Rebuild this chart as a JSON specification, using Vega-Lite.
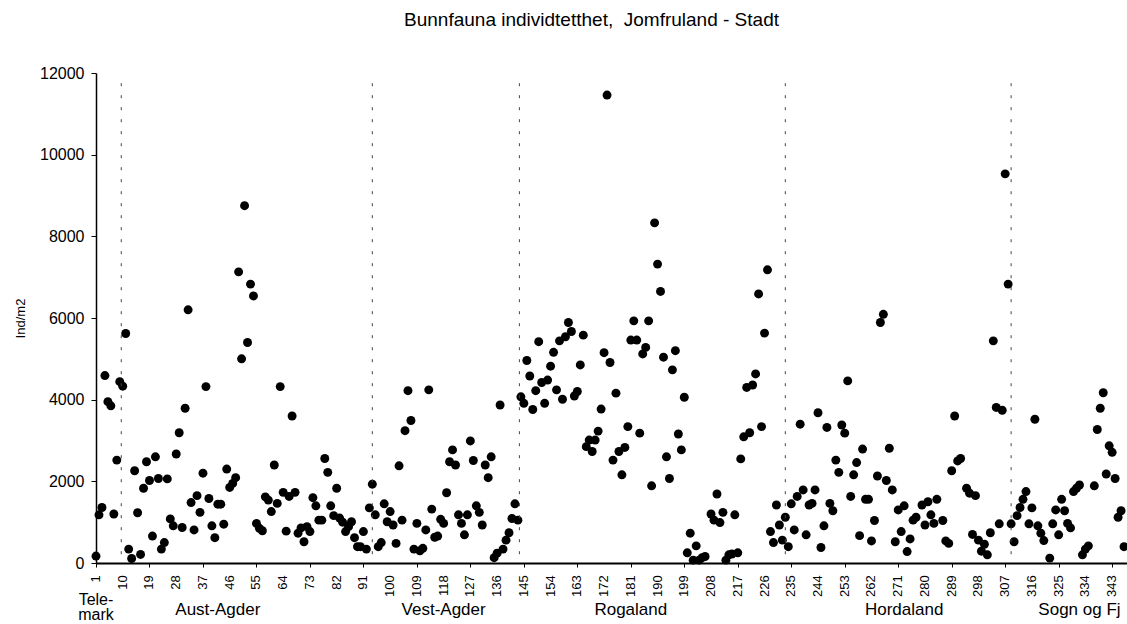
{
  "$schema": "https://vega.github.io/schema/vega-lite/v6.json",
  "width": 1031,
  "height": 490,
  "autosize": {"type": "none"},
  "padding": {"left": 96, "top": 73, "right": 0, "bottom": 61},
  "background": "white",
  "config": {"view": {"stroke": null}, "font": "Liberation Sans"},
  "title": {"text": "Bunnfauna individtetthet, \u00a0Jomfruland - Stadt", "font": "Liberation Sans", "fontSize": 19, "fontWeight": "normal", "color": "black", "anchor": "middle", "offset": 35, "dx": -20},
  "datasets": {
    "points": [
      {"station":1,"ind":170},{"station":2,"ind":1180},{"station":3,"ind":1360},{"station":4,"ind":4590},{"station":5,"ind":3950},{"station":6,"ind":3850},{"station":7,"ind":1200},{"station":8,"ind":2520},{"station":9,"ind":4440},{"station":10,"ind":4330},
      {"station":11,"ind":5620},{"station":12,"ind":340},{"station":13,"ind":110},{"station":14,"ind":2260},{"station":15,"ind":1230},{"station":16,"ind":210},{"station":17,"ind":1830},{"station":18,"ind":2480},{"station":19,"ind":2020},{"station":20,"ind":660},
      {"station":21,"ind":2600},{"station":22,"ind":2070},{"station":23,"ind":340},{"station":24,"ind":500},{"station":25,"ind":2060},{"station":26,"ind":1080},{"station":27,"ind":910},{"station":28,"ind":2670},{"station":29,"ind":3190},{"station":30,"ind":870},
      {"station":31,"ind":3790},{"station":32,"ind":6200},{"station":33,"ind":1480},{"station":34,"ind":810},{"station":35,"ind":1650},{"station":36,"ind":1240},{"station":37,"ind":2200},{"station":38,"ind":4320},{"station":39,"ind":1580},{"station":40,"ind":910},
      {"station":41,"ind":620},{"station":42,"ind":1440},{"station":43,"ind":1440},{"station":44,"ind":950},{"station":45,"ind":2300},{"station":46,"ind":1850},{"station":47,"ind":1950},{"station":48,"ind":2090},{"station":49,"ind":7130},{"station":50,"ind":5000},
      {"station":51,"ind":8750},{"station":52,"ind":5400},{"station":53,"ind":6830},{"station":54,"ind":6540},{"station":55,"ind":970},{"station":56,"ind":850},{"station":57,"ind":790},{"station":58,"ind":1620},{"station":59,"ind":1540},{"station":60,"ind":1260},
      {"station":61,"ind":2400},{"station":62,"ind":1460},{"station":63,"ind":4320},{"station":64,"ind":1730},{"station":65,"ind":780},{"station":66,"ind":1630},{"station":67,"ind":3600},{"station":68,"ind":1730},{"station":69,"ind":730},{"station":70,"ind":860},
      {"station":71,"ind":520},{"station":72,"ind":890},{"station":73,"ind":770},{"station":74,"ind":1600},{"station":75,"ind":1400},{"station":76,"ind":1050},{"station":77,"ind":1050},{"station":78,"ind":2560},{"station":79,"ind":2220},{"station":80,"ind":1400},
      {"station":81,"ind":1160},{"station":82,"ind":1830},{"station":83,"ind":1100},{"station":84,"ind":1000},{"station":85,"ind":770},{"station":86,"ind":890},{"station":87,"ind":1010},{"station":88,"ind":620},{"station":89,"ind":400},{"station":90,"ind":400},
      {"station":91,"ind":770},{"station":92,"ind":340},{"station":93,"ind":1350},{"station":94,"ind":1930},{"station":95,"ind":1180},{"station":96,"ind":400},{"station":97,"ind":500},{"station":98,"ind":1450},{"station":99,"ind":1010},{"station":100,"ind":1260},
      {"station":101,"ind":930},{"station":102,"ind":480},{"station":103,"ind":2380},{"station":104,"ind":1050},{"station":105,"ind":3240},{"station":106,"ind":4220},{"station":107,"ind":3490},{"station":108,"ind":340},{"station":109,"ind":970},{"station":110,"ind":300},
      {"station":111,"ind":360},{"station":112,"ind":810},{"station":113,"ind":4240},{"station":114,"ind":1320},{"station":115,"ind":630},{"station":116,"ind":660},{"station":117,"ind":1070},{"station":118,"ind":970},{"station":119,"ind":1720},{"station":120,"ind":2480},
      {"station":121,"ind":2770},{"station":122,"ind":2400},{"station":123,"ind":1180},{"station":124,"ind":970},{"station":125,"ind":690},{"station":126,"ind":1180},{"station":127,"ind":2990},{"station":128,"ind":2510},{"station":129,"ind":1400},{"station":130,"ind":1240},
      {"station":131,"ind":930},{"station":132,"ind":2400},{"station":133,"ind":2090},{"station":134,"ind":2600},{"station":135,"ind":130},{"station":136,"ind":240},{"station":137,"ind":3870},{"station":138,"ind":340},{"station":139,"ind":560},{"station":140,"ind":740},
      {"station":141,"ind":1090},{"station":142,"ind":1450},{"station":143,"ind":1050},{"station":144,"ind":4070},{"station":145,"ind":3910},{"station":146,"ind":4960},{"station":147,"ind":4580},{"station":148,"ind":3760},{"station":149,"ind":4220},{"station":150,"ind":5420},
      {"station":151,"ind":4420},{"station":152,"ind":3910},{"station":153,"ind":4480},{"station":154,"ind":4820},{"station":155,"ind":5160},{"station":156,"ind":4240},{"station":157,"ind":5440},{"station":158,"ind":4010},{"station":159,"ind":5540},{"station":160,"ind":5890},
      {"station":161,"ind":5670},{"station":162,"ind":4090},{"station":163,"ind":4200},{"station":164,"ind":4850},{"station":165,"ind":5580},{"station":166,"ind":2850},{"station":167,"ind":3010},{"station":168,"ind":2730},{"station":169,"ind":3010},{"station":170,"ind":3230},
      {"station":171,"ind":3770},{"station":172,"ind":5150},{"station":173,"ind":11460},{"station":174,"ind":4910},{"station":175,"ind":2520},{"station":176,"ind":4160},{"station":177,"ind":2730},{"station":178,"ind":2160},{"station":179,"ind":2830},{"station":180,"ind":3340},
      {"station":181,"ind":5460},{"station":182,"ind":5930},{"station":183,"ind":5460},{"station":184,"ind":3180},{"station":185,"ind":5120},{"station":186,"ind":5280},{"station":187,"ind":5930},{"station":188,"ind":1890},{"station":189,"ind":8330},{"station":190,"ind":7320},
      {"station":191,"ind":6650},{"station":192,"ind":5040},{"station":193,"ind":2600},{"station":194,"ind":2070},{"station":195,"ind":4730},{"station":196,"ind":5200},{"station":197,"ind":3160},{"station":198,"ind":2770},{"station":199,"ind":4060},{"station":200,"ind":250},
      {"station":201,"ind":730},{"station":202,"ind":70},{"station":203,"ind":420},{"station":204,"ind":70},{"station":205,"ind":130},{"station":206,"ind":160},{"station":208,"ind":1200},{"station":209,"ind":1050},{"station":210,"ind":1690},
      {"station":211,"ind":990},{"station":212,"ind":1240},{"station":213,"ind":70},{"station":214,"ind":200},{"station":215,"ind":220},{"station":216,"ind":1180},{"station":217,"ind":250},{"station":218,"ind":2550},{"station":219,"ind":3090},{"station":220,"ind":4300},
      {"station":221,"ind":3190},{"station":222,"ind":4360},{"station":223,"ind":4630},{"station":224,"ind":6590},{"station":225,"ind":3340},{"station":226,"ind":5630},{"station":227,"ind":7180},{"station":228,"ind":770},{"station":229,"ind":500},{"station":230,"ind":1420},
      {"station":231,"ind":930},{"station":232,"ind":560},{"station":233,"ind":1120},{"station":234,"ind":400},{"station":235,"ind":1450},{"station":236,"ind":810},{"station":237,"ind":1630},{"station":238,"ind":3400},{"station":239,"ind":1790},{"station":240,"ind":690},
      {"station":241,"ind":1420},{"station":242,"ind":1460},{"station":243,"ind":1790},{"station":244,"ind":3680},{"station":245,"ind":380},{"station":246,"ind":910},{"station":247,"ind":3320},{"station":248,"ind":1460},{"station":249,"ind":1280},{"station":250,"ind":2520},
      {"station":251,"ind":2220},{"station":252,"ind":3380},{"station":253,"ind":3180},{"station":254,"ind":4460},{"station":255,"ind":1630},{"station":256,"ind":2160},{"station":257,"ind":2460},{"station":258,"ind":670},{"station":259,"ind":2790},{"station":260,"ind":1560},
      {"station":261,"ind":1560},{"station":262,"ind":540},{"station":263,"ind":1040},{"station":264,"ind":2130},{"station":265,"ind":5890},{"station":266,"ind":6090},{"station":267,"ind":2020},{"station":268,"ind":2810},{"station":269,"ind":1790},{"station":270,"ind":520},
      {"station":271,"ind":1300},{"station":272,"ind":770},{"station":273,"ind":1400},{"station":274,"ind":280},{"station":275,"ind":590},{"station":276,"ind":1050},{"station":277,"ind":1120},{"station":279,"ind":1420},{"station":280,"ind":930},
      {"station":281,"ind":1500},{"station":282,"ind":1180},{"station":283,"ind":970},{"station":284,"ind":1560},{"station":286,"ind":1040},{"station":287,"ind":540},{"station":288,"ind":480},{"station":289,"ind":2260},{"station":290,"ind":3600},
      {"station":291,"ind":2500},{"station":292,"ind":2560},{"station":294,"ind":1830},{"station":295,"ind":1710},{"station":296,"ind":700},{"station":297,"ind":1650},{"station":298,"ind":560},{"station":299,"ind":290},{"station":300,"ind":460},
      {"station":301,"ind":200},{"station":302,"ind":740},{"station":303,"ind":5440},{"station":304,"ind":3810},{"station":305,"ind":960},{"station":306,"ind":3740},{"station":307,"ind":9530},{"station":308,"ind":6830},{"station":309,"ind":960},{"station":310,"ind":520},
      {"station":311,"ind":1160},{"station":312,"ind":1360},{"station":313,"ind":1560},{"station":314,"ind":1750},{"station":315,"ind":960},{"station":316,"ind":1350},{"station":317,"ind":3520},{"station":318,"ind":910},{"station":319,"ind":730},{"station":320,"ind":550},
      {"station":322,"ind":120},{"station":323,"ind":960},{"station":324,"ind":1300},{"station":325,"ind":690},{"station":326,"ind":1560},{"station":327,"ind":1280},{"station":328,"ind":970},{"station":329,"ind":860},{"station":330,"ind":1750},
      {"station":331,"ind":1830},{"station":332,"ind":1910},{"station":333,"ind":200},{"station":334,"ind":340},{"station":335,"ind":420},{"station":337,"ind":1890},{"station":338,"ind":3270},{"station":339,"ind":3790},{"station":340,"ind":4170},
      {"station":341,"ind":2180},{"station":342,"ind":2870},{"station":343,"ind":2710},{"station":344,"ind":2070},{"station":345,"ind":1120},{"station":346,"ind":1280},{"station":347,"ind":400}
    ],
    "bounds": [{"b": 9.5}, {"b": 94}, {"b": 143.5}, {"b": 233}, {"b": 309}],
    "ticks": [
      {"t":1},{"t":10},{"t":19},{"t":28},{"t":37},{"t":46},{"t":55},{"t":64},{"t":73},{"t":82},{"t":91},{"t":100},{"t":109},{"t":118},{"t":127},{"t":136},{"t":145},{"t":154},{"t":163},{"t":172},
      {"t":181},{"t":190},{"t":199},{"t":208},{"t":217},{"t":226},{"t":235},{"t":244},{"t":253},{"t":262},{"t":271},{"t":280},{"t":289},{"t":298},{"t":307},{"t":316},{"t":325},{"t":334},{"t":343}
    ],
    "regions": [
      {"label": "Aust-Agder", "pos": 42},
      {"label": "Vest-Agder", "pos": 118},
      {"label": "Rogaland", "pos": 181},
      {"label": "Hordaland", "pos": 273},
      {"label": "Sogn og Fj", "pos": 332}
    ],
    "telemark": [
      {"label": "Tele-\nmark", "pos": 1}
    ]
  },
  "layer": [
    {
      "data": {"name": "points"},
      "mark": {"type": "circle", "size": 80, "color": "black", "opacity": 1},
      "encoding": {
        "x": {
          "field": "station", "type": "quantitative",
          "scale": {"domain": [1, 348], "nice": false, "zero": false},
          "axis": {
            "values": [1,10,19,28,37,46,55,64,73,82,91,100,109,118,127,136,145,154,163,172,181,190,199,208,217,226,235,244,253,262,271,280,289,298,307,316,325,334,343],
            "labels": false, "tickSize": 4, "tickColor": "black", "domainColor": "black", "domainWidth": 2,
            "grid": false, "title": null
          }
        },
        "y": {
          "field": "ind", "type": "quantitative",
          "scale": {"domain": [0, 12000], "nice": false},
          "axis": {
            "values": [0,2000,4000,6000,8000,10000,12000], "format": "d",
            "labelFont": "Liberation Sans", "labelFontSize": 16, "labelColor": "black", "labelPadding": 7,
            "tickSize": 5, "tickColor": "black", "domainColor": "black", "domainWidth": 1.5, "grid": false,
            "title": "Ind/m2", "titleFont": "Liberation Sans", "titleFontSize": 13, "titleFontWeight": "normal", "titleColor": "black", "titlePadding": 12
          }
        }
      }
    },
    {
      "data": {"name": "bounds"},
      "mark": {"type": "rule", "strokeDash": [3, 9], "color": "#444", "strokeWidth": 1},
      "encoding": {
        "x": {"field": "b", "type": "quantitative"},
        "y": {"datum": 11750, "type": "quantitative"},
        "y2": {"datum": 0}
      }
    },
    {
      "data": {"name": "ticks"},
      "mark": {"type": "text", "font": "Liberation Sans", "fontSize": 13, "color": "black", "angle": 270, "align": "right", "baseline": "middle"},
      "encoding": {
        "x": {"field": "t", "type": "quantitative"},
        "y": {"datum": -300, "type": "quantitative"},
        "text": {"field": "t", "type": "quantitative", "format": "d"}
      }
    },
    {
      "data": {"name": "regions"},
      "mark": {"type": "text", "font": "Liberation Sans", "fontSize": 17, "color": "black", "dy": 47, "baseline": "middle", "align": "center"},
      "encoding": {
        "x": {"field": "pos", "type": "quantitative"},
        "y": {"datum": 0, "type": "quantitative"},
        "text": {"field": "label"}
      }
    },
    {
      "data": {"name": "telemark"},
      "mark": {"type": "text", "font": "Liberation Sans", "fontSize": 16, "color": "black", "dy": 37, "baseline": "middle", "align": "center", "lineBreak": "\n", "lineHeight": 15},
      "encoding": {
        "x": {"field": "pos", "type": "quantitative"},
        "y": {"datum": 0, "type": "quantitative"},
        "text": {"field": "label"}
      }
    }
  ]
}
